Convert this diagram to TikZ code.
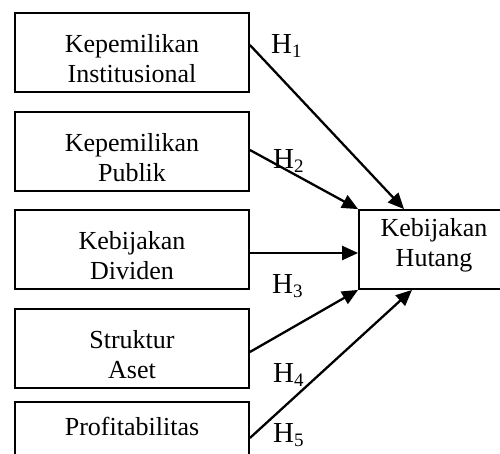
\documentclass[tikz,border=0pt]{standalone}
\usepackage{fontspec}
\setmainfont{Liberation Serif}
\usetikzlibrary{arrows.meta}
\begin{document}
\begin{tikzpicture}[x=1pt,y=-1pt,
  box/.style={draw, line width=1.8pt, minimum width=234pt, minimum height=79pt, inner sep=0pt},
  tbox/.style={draw, line width=1.8pt, minimum width=150pt, minimum height=79pt, inner sep=0pt},
  lbl/.style={inner sep=0pt, align=center, font=\fontsize{26}{30}\selectfont},
  hyp/.style={inner sep=0pt, anchor=base west, font=\fontsize{29}{30}\selectfont},
  arr/.style={line width=2.3pt, -{Triangle[length=16pt,width=14pt]}}]
\path[use as bounding box] (0,0) rectangle (500,453);
\clip (0,0) rectangle (500,453);
\node[box] (b1) at (132,52.5) {};
\node[box] (b2) at (132,151.5) {};
\node[box] (b3) at (132,249.5) {};
\node[box] (b4) at (132,348.5) {};
\node[box] (b5) at (132,441.5) {};
\node[tbox] (t) at (434,249.5) {};
\node[lbl] (l1) at ([yshift=-6pt]b1.center) {Kepemilikan\\Institusional};
\node[lbl] (l2) at ([yshift=-6pt]b2.center) {Kepemilikan\\Publik};
\node[lbl] (l3) at ([yshift=-6pt]b3.center) {Kebijakan\\Dividen};
\node[lbl] (l4) at ([yshift=-6pt]b4.center) {Struktur\\Aset};
\node[lbl, anchor=base] (l5) at (132,435) {Profitabilitas};
\node[lbl] (lt) at ([yshift=4pt]t.center) {Kebijakan\\Hutang};
\draw[arr] ([yshift=7.5pt]b1.east) -- ([xshift=-30pt]t.north);
\draw[arr] ([yshift=1.5pt]b2.east) -- (t.north west);
\draw[arr] ([yshift=-3.5pt]b3.east) -- ([yshift=-3.5pt]t.west);
\draw[arr] ([yshift=-3.5pt]b4.east) -- (t.south west);
\draw[arr] ([yshift=3.5pt]b5.east) -- ([xshift=-22pt]t.south);
\newcommand{\hsub}[1]{H\raisebox{-4pt}{\fontsize{19}{19}\selectfont #1}}
\node[hyp] (h1) at (271,53) {\hsub{1}};
\node[hyp] (h2) at (273,168) {\hsub{2}};
\node[hyp] (h3) at (272,293) {\hsub{3}};
\node[hyp] (h4) at (273,382) {\hsub{4}};
\node[hyp] (h5) at (273,442) {\hsub{5}};
\end{tikzpicture}
\end{document}
